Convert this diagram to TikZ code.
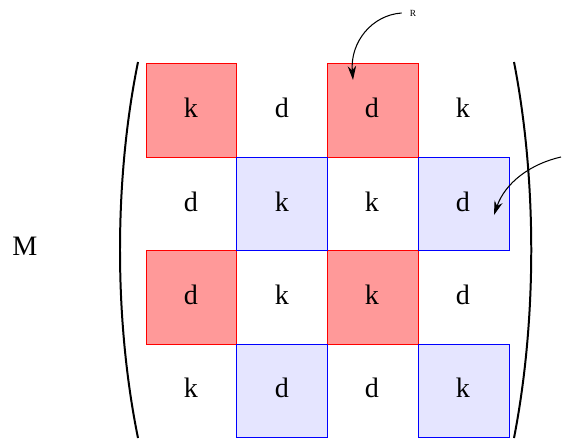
\documentclass[tikz,border=0pt]{standalone}
\usepackage{fontspec}
\setmainfont{Liberation Serif}
\usetikzlibrary{arrows.meta}
\tikzset{
  redcell/.style={fill=red!40, draw=red, line width=0.4pt},
  bluecell/.style={fill=blue!10, draw=blue, line width=0.4pt},
  entry/.style={font=\fontsize{12}{14}\selectfont},
  paren/.style={line width=0.85pt},
  pointer/.style={-{Stealth[length=6pt,width=3.6pt]}, line width=0.45pt}
}
\begin{document}
\begin{tikzpicture}[x=0.015cm, y=-0.015cm]
  \useasboundingbox (0,0) rectangle (562,438);

  % Red blocks
  \draw[redcell] (146,63) rectangle (236,157);
  \draw[redcell] (327,63) rectangle (418,157);
  \draw[redcell] (146,250) rectangle (236,344);
  \draw[redcell] (327,250) rectangle (418,344);

  % Blue blocks
  \draw[bluecell] (236,157) rectangle (327,250);
  \draw[bluecell] (418,157) rectangle (509,250);
  \draw[bluecell] (236,344) rectangle (327,437);
  \draw[bluecell] (418,344) rectangle (509,437);

  % Entries
  \node[entry] (e11) at (191,108) {k};
  \node[entry] (e12) at (282,108) {d};
  \node[entry] (e13) at (372,108) {d};
  \node[entry] (e14) at (463,108) {k};
  \node[entry] (e21) at (191,202) {d};
  \node[entry] (e22) at (282,202) {k};
  \node[entry] (e23) at (372,202) {k};
  \node[entry] (e24) at (463,202) {d};
  \node[entry] (e31) at (191,295) {d};
  \node[entry] (e32) at (282,295) {k};
  \node[entry] (e33) at (372,295) {k};
  \node[entry] (e34) at (463,295) {d};
  \node[entry] (e41) at (191,388) {k};
  \node[entry] (e42) at (282,388) {d};
  \node[entry] (e43) at (372,388) {d};
  \node[entry] (e44) at (463,388) {k};

  % Brackets
  \draw[paren] (138,62) .. controls (114,180) and (114,320) .. (138,438);
  \draw[paren] (514,62) .. controls (537,180) and (537,320) .. (514,438);
  \node[entry] (mlabel) at (25,246) {M};

  % Pointers
  \node[font=\fontsize{4}{5}\selectfont] (rlabel) at (413,13) {R};
  \coordinate (rtip) at (353,80);
  \draw[pointer] (rlabel.west) .. controls (372,15) and (350,42) .. (rtip);
  \coordinate (cstart) at (561,157);
  \coordinate (ctip) at (494,215);
  \draw[pointer] (cstart) .. controls (530,164) and (505,183) .. (ctip);
\end{tikzpicture}
\end{document}
